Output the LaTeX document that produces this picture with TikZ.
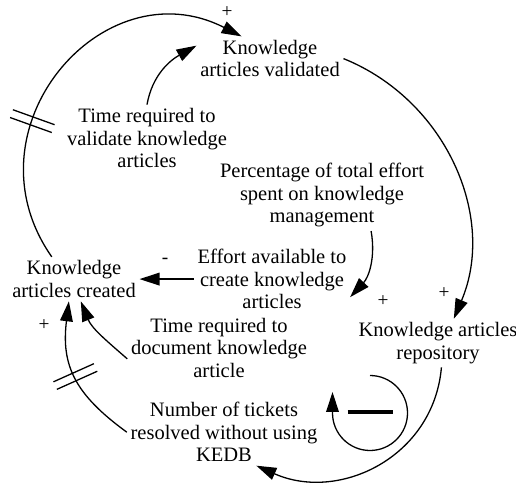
\documentclass[tikz,border=0pt]{standalone}
\usepackage{fontspec}
\setmainfont{Liberation Serif}
\usetikzlibrary{arrows.meta}

\begin{document}
\begin{tikzpicture}[
    x=0.03cm, y=0.03cm,
    >={Triangle[length=0.6cm, width=0.38cm]},
    var/.style={align=center, inner sep=3pt, font=\fontsize{17.5}{19.2}\selectfont},
    sign/.style={inner sep=0pt, font=\fontsize{16.5}{18}\selectfont},
    link/.style={->, line width=1.1pt},
    delaybox/.style={inner sep=0pt, minimum width=0.21cm, minimum height=1.29cm},
    delay/.style={line width=1.1pt}
]
\useasboundingbox (0,0) rectangle (516,488);

% Variables
\node[var] (validated) at (270,429.4) {Knowledge\\articles validated};
\node[var] (timeval) at (147,349.9) {Time required to\\validate knowledge\\articles};
\node[var] (perc) at (322,292.6) {Percentage of total effort\\spent on knowledge\\management};
\node[var] (effort) at (272,208.9) {Effort available to\\create knowledge\\articles};
\node[var] (created) at (74,208.9) {Knowledge\\articles created};
\node[var] (timedoc) at (219,140.4) {Time required to\\document knowledge\\article};
\node[var] (repo) at (438,144.9) {Knowledge articles\\repository};
\node[var] (tickets) at (224,55.8) {Number of tickets\\resolved without using\\KEDB};

% Links
\draw[link] (created.135) to[out=125, in=153, looseness=1.37] node[delaybox, pos=0.35, sloped] (dly1) {} (validated.142);
\draw[link] (timeval.north) to[out=80, in=209] (validated.170);
\draw[link] (validated.east) to[out=-22, in=67] (repo.57);
\draw[link] (perc.-36) to[out=-80, in=47] (effort.-13);
\draw[link] (effort) -- (created);
\draw[link] (timedoc.187) to[out=139, in=-68] (created.-73);
\draw[link] (tickets.west) to[out=144, in=-97, looseness=1.15] node[delaybox, pos=0.5, sloped] (dly2) {} (created.-103);
\draw[link] (repo.-82) to[out=-95, in=-24, looseness=1.1] (tickets.-46);

% Delay marks
\draw[delay] (dly1.north west) -- (dly1.south west) (dly1.north east) -- (dly1.south east);
\draw[delay] (dly2.north west) -- (dly2.south west) (dly2.north east) -- (dly2.south east);

% Polarities
\node[sign] (pol1) at (227,475.5) {+};
\node[sign] (pol2) at (444,195) {+};
\node[sign] (pol3) at (383,187) {+};
\node[sign] (pol4) at (44,163) {+};
\node[sign] (pol5) at (165,227.3) {-};

% Loop
\coordinate (loop) at (370,75);
\draw[link] (loop) ++(0,37.5) arc[start angle=90, end angle=-180, radius=37.5] -- ++(0,21);
\draw[line width=3.4pt] (loop) ++(-22.5,1) -- ++(45,0);

\end{tikzpicture}
\end{document}
